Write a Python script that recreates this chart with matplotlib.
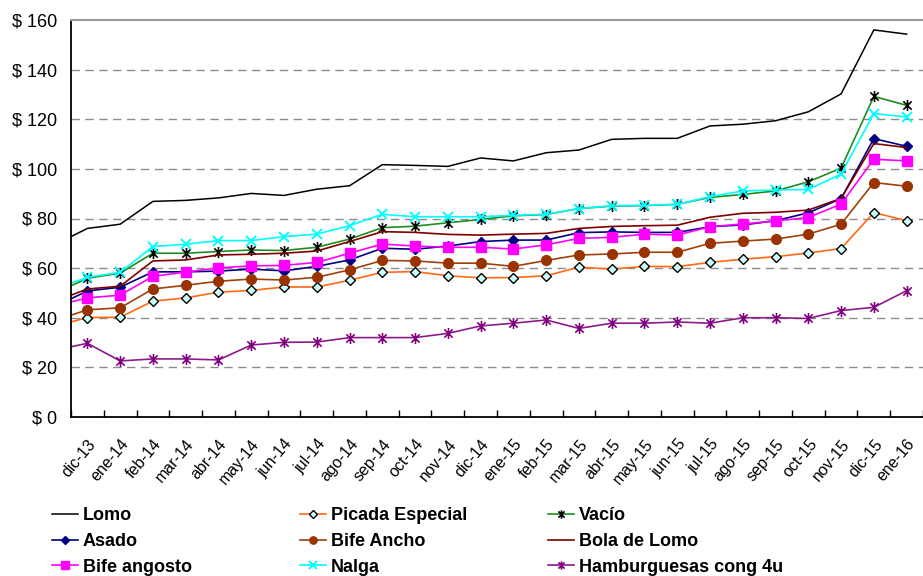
import matplotlib
matplotlib.use('Agg')
import matplotlib.pyplot as plt
import matplotlib.transforms as mtransforms
from matplotlib.path import Path
import numpy as np

plt.rcParams['font.family'] = ['Liberation Sans', 'DejaVu Sans']

months = ['nov-13', 'dic-13', 'ene-14', 'feb-14', 'mar-14', 'abr-14', 'may-14', 'jun-14',
          'jul-14', 'ago-14', 'sep-14', 'oct-14', 'nov-14', 'dic-14', 'ene-15', 'feb-15',
          'mar-15', 'abr-15', 'may-15', 'jun-15', 'jul-15', 'ago-15', 'sep-15', 'oct-15',
          'nov-15', 'dic-15', 'ene-16']

lomo = [69.4, 76.0, 77.7, 86.9, 87.3, 88.3, 90.1, 89.3, 91.8, 93.2, 101.7, 101.4, 101.0, 104.4,
        103.2, 106.5, 107.6, 111.9, 112.3, 112.3, 117.3, 118.0, 119.4, 123.0, 130.2, 156.0, 154.3]
picada = [36.5, 40.1, 40.2, 46.7, 48.0, 50.3, 51.0, 52.4, 52.4, 55.1, 58.3, 58.6, 56.9, 56.1,
          56.2, 56.9, 60.4, 59.6, 60.7, 60.6, 62.3, 63.6, 64.6, 66.1, 67.9, 82.4, 79.1]
vacio = [49.9, 55.9, 58.0, 66.0, 66.0, 66.7, 67.3, 67.1, 68.4, 71.7, 76.3, 76.9, 78.3, 79.6,
         81.1, 81.6, 84.0, 85.0, 85.2, 85.7, 88.5, 89.7, 91.1, 94.8, 100.3, 129.2, 125.6]
asado = [44.5, 50.8, 52.3, 58.5, 58.5, 58.8, 59.6, 58.9, 60.7, 63.3, 68.0, 67.6, 68.9, 70.7,
         71.3, 71.3, 74.3, 74.6, 74.4, 74.4, 76.7, 77.4, 79.1, 82.3, 88.0, 112.2, 109.1]
bife_ancho = [38.9, 43.2, 44.0, 51.6, 53.1, 54.7, 55.6, 55.2, 56.3, 59.3, 63.1, 62.9, 62.0, 62.0,
              60.7, 63.1, 65.3, 65.7, 66.4, 66.4, 70.0, 70.9, 71.7, 73.7, 77.7, 94.5, 93.0]
bola_lomo = [46.6, 51.6, 52.7, 62.9, 63.3, 65.3, 65.6, 66.0, 66.9, 70.7, 74.7, 74.4, 73.6, 73.3,
             73.7, 74.0, 76.0, 76.8, 77.1, 77.3, 80.5, 82.1, 82.5, 83.4, 88.1, 110.2, 108.6]
bife_angosto = [44.8, 48.0, 49.1, 56.7, 58.4, 60.1, 60.9, 61.1, 62.3, 66.0, 69.7, 68.9, 68.4, 68.4,
                67.7, 69.4, 72.0, 72.4, 73.7, 73.3, 76.7, 77.8, 79.0, 80.4, 85.8, 103.9, 103.2]
nalga = [51.6, 56.3, 58.3, 68.7, 69.6, 71.1, 71.1, 72.7, 73.7, 77.1, 81.7, 80.7, 80.7, 80.7,
         81.3, 81.7, 84.0, 85.1, 85.3, 85.7, 88.8, 91.1, 91.5, 91.7, 97.9, 122.3, 120.9]
hamburguesas = [26.9, 29.7, 22.6, 23.4, 23.4, 23.0, 29.0, 30.1, 30.2, 32.0, 32.0, 32.0, 33.7, 36.7,
                37.8, 39.1, 35.7, 37.8, 37.8, 38.3, 37.8, 40.0, 40.0, 39.7, 42.9, 44.2, 50.9]

yticks = [0, 20, 40, 60, 80, 100, 120, 140, 160]
ytick_labels = ['$ 0', '$ 20', '$ 40', '$ 60', '$ 80', '$ 100', '$ 120', '$ 140', '$ 160']

star = Path([(0, -1), (0, 1), (-0.75, -0.75), (0.75, 0.75), (-0.75, 0.75), (0.75, -0.75)],
            [Path.MOVETO, Path.LINETO, Path.MOVETO, Path.LINETO, Path.MOVETO, Path.LINETO])

W, H = 923, 576
fig = plt.figure(figsize=(W / 100, H / 100), dpi=100)
left_px, top_px, bot_px = 71, 20, 417
ax = fig.add_axes([left_px / W, 1 - bot_px / H, 1 - left_px / W, (bot_px - top_px) / H])

x = np.arange(len(months))
series = [
    ('Lomo', lomo, dict(color='black', lw=1.1)),
    ('Picada Especial', picada, dict(color='#FF6A13', lw=1.2, marker='D', ms=5,
                                     mfc='#CCFFFF', mec='black', mew=1.0)),
    ('Vacío', vacio, dict(color='#1E8C1E', lw=1.2, marker=star, ms=8, mec='black', mew=1.2)),
    ('Asado', asado, dict(color='#000080', lw=1.2, marker='D', ms=5.5, mfc='#000080', mec='#000080')),
    ('Bife Ancho', bife_ancho, dict(color='#A0400A', lw=1.2, marker='o', ms=7, mfc='#993300', mec='#993300')),
    ('Bola de Lomo', bola_lomo, dict(color='#800000', lw=1.2)),
    ('Bife angosto', bife_angosto, dict(color='#FF00FF', lw=1.2, marker='s', ms=7, mfc='#FF00FF', mec='#FF00FF')),
    ('Nalga', nalga, dict(color='#00FFFF', lw=1.2, marker='x', ms=7.5, mec='#00FFFF', mew=1.4)),
    ('Hamburguesas cong 4u', hamburguesas, dict(color='#8B1A8B', lw=1.2, marker=star, ms=8,
                                                 mec='#800080', mew=1.2)),
]
handles = {}
for name, vals, st in series:
    ln, = ax.plot(x, vals, label=name, **st)
    handles[name] = ln

ax.set_xlim(0.5, 0.5 + (W - left_px) / 33.2)
ax.set_ylim(0, 160)
ax.set_yticks(yticks)
ax.set_yticklabels(ytick_labels, fontsize=13)
ax.set_xticks(x[1:])
ax.set_xticklabels(months[1:], fontsize=11.5, rotation=50, ha='right', rotation_mode='anchor')
offset = mtransforms.ScaledTranslation(-6 / 100, 0, fig.dpi_scale_trans)
for lbl in ax.get_xticklabels():
    lbl.set_transform(lbl.get_transform() + offset)
ax.set_xticks(np.arange(0.5, len(months), 1), minor=True)
ax.tick_params(axis='x', which='major', length=0, pad=14)
ax.tick_params(axis='x', which='minor', length=5, direction='in', width=1)
ax.tick_params(axis='y', length=0, pad=10)
for v in yticks[1:-1]:
    ax.axhline(v, color='#8C8C8C', lw=1, ls=(0, (6, 4)), zorder=0)
ax.spines['right'].set_visible(False)
ax.spines['top'].set_color('#9A9A9A')
ax.spines['top'].set_linewidth(1.5)
ax.spines['left'].set_linewidth(1.3)
ax.spines['bottom'].set_linewidth(1.3)

cols = [['Lomo', 'Asado', 'Bife angosto'],
        ['Picada Especial', 'Bife Ancho', 'Nalga'],
        ['Vacío', 'Bola de Lomo', 'Hamburguesas cong 4u']]
col_x = [52, 300, 548]
for cx, names in zip(col_x, cols):
    fig.legend([handles[n] for n in names], names, loc='upper left',
               bbox_to_anchor=(cx / W, 1 - 507 / H), frameon=False,
               borderaxespad=0, borderpad=0, handlelength=1.45, handletextpad=0.25,
               labelspacing=0.49, markerscale=0.75, prop={'weight': 'bold', 'size': 13})

fig.savefig('out.png', dpi=100)
